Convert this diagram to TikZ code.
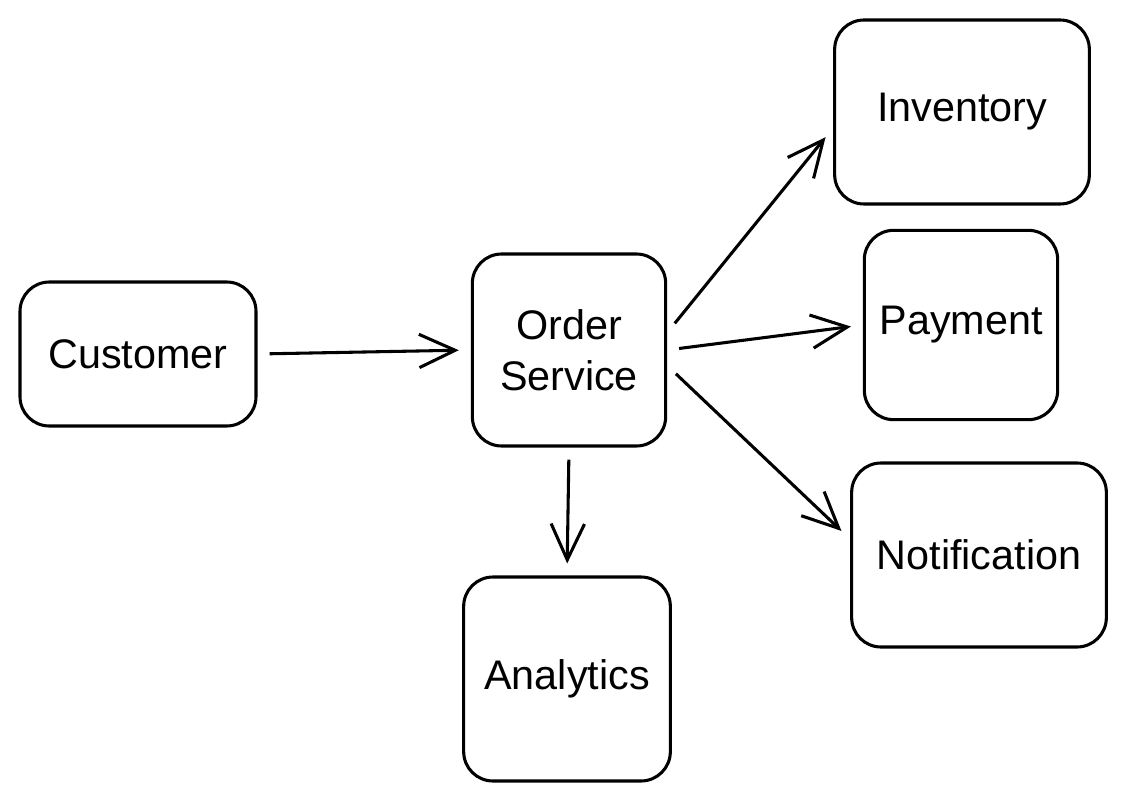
\documentclass[tikz,border=0pt]{standalone}
\usepackage{fontspec}
\setmainfont{Liberation Sans}
\usetikzlibrary{arrows.meta,positioning}

\begin{document}
\begin{tikzpicture}[x=0.75pt, y=-0.75pt, align=center, every path/.style={line width=2.3pt},
  box/.style={draw, rounded corners=22pt, inner sep=0pt, font=\fontsize{31}{38}\selectfont},
  link/.style={-{Straight Barb[length=27pt,width=25pt]}, shorten <=9pt, shorten >=9pt}]
\useasboundingbox (0,0) rectangle (1127,802);

\node (customer) [box, minimum width=177pt, minimum height=108pt] at (138,354) {Customer};
\node (order) [box, minimum width=145pt, minimum height=144pt] at (569,350) {Order\\Service};

\draw[link] (customer.east) -- (order.west);

% -------------------------------

\node (inventory) [box, minimum width=191pt, minimum height=138pt] at (962,112) {Inventory};
\node (payment) [box, minimum width=145pt, minimum height=142pt] at (961,325) {Payment};
\node (notification) [box, minimum width=191pt, minimum height=138pt] at (979,555) {Notification};

\draw[link] (order.10) -- (inventory.187);
\draw[link] (order.east) -- (payment.west);
\draw[link] (order.-9) -- (notification.173);

% -------------------------------

\node (analytics) [box, minimum width=155pt, minimum height=153pt] at (567,679) {Analytics};

\draw[link] (order.south) -- (analytics.north);
\end{tikzpicture}
\end{document}
